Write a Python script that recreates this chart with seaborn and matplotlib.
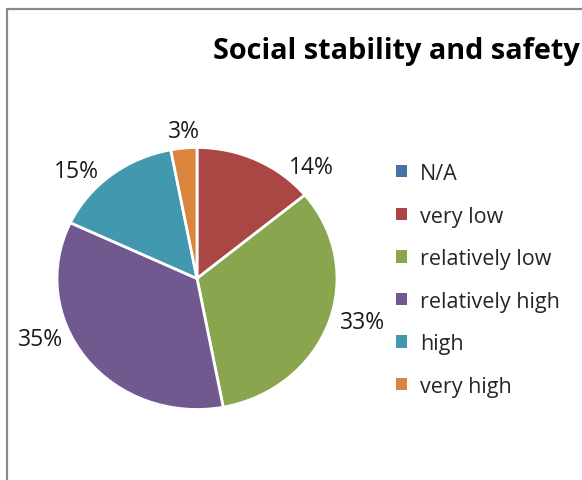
import matplotlib
matplotlib.use("Agg")
import matplotlib.pyplot as plt
import seaborn as sns
from matplotlib.patches import Rectangle, Patch

sns.set_theme(style="white")
plt.rcParams['font.family'] = ['Open Sans', 'DejaVu Sans']

categories = ["N/A", "very low", "relatively low", "relatively high", "high", "very high"]
values = [0, 14, 33, 35, 15, 3]
pct_labels = ["", "14%", "33%", "35%", "15%", "3%"]
colors = ["#4572A7", "#AA4643", "#89A54E", "#71588F", "#4198AF", "#DB843D"]
title = "Social stability and safety"

W, H = 582, 481
fig = plt.figure(figsize=(W / 100, H / 100), dpi=100)
fig.patch.set_facecolor("white")

# chart border (extends beyond the right and bottom edge)
fig.patches.append(Rectangle((7 / W, -0.1), 1.2, (H - 10) / H + 0.1, transform=fig.transFigure,
                             fill=False, edgecolor="#898989", linewidth=1.6))

cx, cy, rx, ry = 197, 279.5, 140, 131
ax = fig.add_axes([(cx - rx) / W, (H - cy - ry) / H, 2 * rx / W, 2 * ry / H])
wedges, _ = ax.pie(values, colors=colors, startangle=90, counterclock=False,
                   wedgeprops=dict(edgecolor="white", linewidth=2))
ax.set_xlim(-1, 1)
ax.set_ylim(-1, 1)
ax.set_aspect("auto")
ax.axis("off")

label_pos = [None, (0.814, 0.851), (1.179, -0.332), (-1.121, -0.462), (-0.864, 0.818), (-0.093, 1.125)]
for lab, pos in zip(pct_labels, label_pos):
    if lab and pos:
        ax.text(pos[0], pos[1], lab, ha="center", va="center", fontsize=16.5, color="#1a1a1a", clip_on=False)

fig.text(396 / W, 1 - 52 / H, title, ha="center", va="center", fontsize=20.8, fontweight="bold", color="black")

handles = [Patch(facecolor=c, edgecolor="none") for c in colors]
fig.legend(handles, categories, loc="upper left", bbox_to_anchor=(396 / W, 1 - 164 / H),
           frameon=False, fontsize=15.5, labelspacing=1.0, handlelength=0.5, handleheight=0.5,
           handletextpad=0.6, borderpad=0, borderaxespad=0)

fig.savefig("out.png", dpi=100, facecolor="white")
